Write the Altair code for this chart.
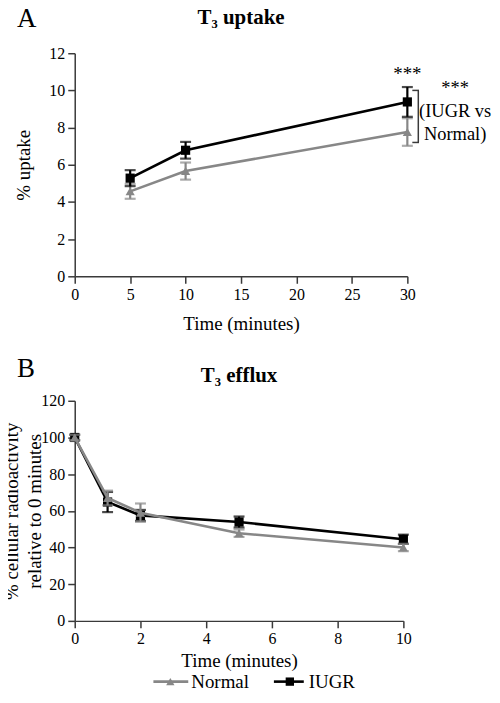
import altair as alt
import pandas as pd

FONT = "Liberation Serif"
AXIS_COLOR = "#3a3a3a"

# ---- series definitions ----
series_names = ["Normal", "IUGR"]
series_colors = ["#878787", "#000000"]
series_shapes = ["triangle-up", "square"]

# ---- panel A: T3 uptake ----
uptake_time = [5, 10, 30]
uptake_normal = [4.57, 5.66, 7.76]
uptake_normal_sem = [0.40, 0.46, 0.74]
uptake_iugr = [5.28, 6.78, 9.38]
uptake_iugr_sem = [0.43, 0.45, 0.80]
uptake_x_ticks = [0, 5, 10, 15, 20, 25, 30]
uptake_y_ticks = [0, 2, 4, 6, 8, 10, 12]
uptake_bracket = [7.2, 10.0]
uptake_note = ["***", "(IUGR vs", "Normal)"]

# ---- panel B: T3 efflux ----
efflux_time = [0, 1, 2, 5, 10]
efflux_normal = [100, 67.0, 59.0, 47.8, 40.0]
efflux_normal_sem = [1.5, 4.0, 5.0, 2.0, 2.0]
efflux_iugr = [100, 64.8, 57.5, 53.9, 44.5]
efflux_iugr_sem = [1.5, 5.5, 3.0, 3.0, 2.5]
efflux_x_ticks = [0, 2, 4, 6, 8, 10]
efflux_y_ticks = [0, 20, 40, 60, 80, 100, 120]


def table(times, normal, normal_sem, iugr, iugr_sem):
    rows = []
    for name, vals, sems in ((series_names[0], normal, normal_sem),
                             (series_names[1], iugr, iugr_sem)):
        for t, v, e in zip(times, vals, sems):
            rows.append({"series": name, "time": t, "value": v,
                         "lo": v - e, "hi": v + e})
    return pd.DataFrame(rows)


uptake_df = table(uptake_time, uptake_normal, uptake_normal_sem,
                  uptake_iugr, uptake_iugr_sem)
efflux_df = table(efflux_time, efflux_normal, efflux_normal_sem,
                  efflux_iugr, efflux_iugr_sem)
legend_df = pd.DataFrame({"series": series_names})
one_row = pd.DataFrame({"k": [0]})

AXIS_STYLE = dict(
    grid=False, domainColor=AXIS_COLOR, domainWidth=1.5, tickColor=AXIS_COLOR,
    tickWidth=1.5, tickSize=7, labelFont=FONT, labelFontSize=16, labelColor="black",
    labelPadding=3, titleFont=FONT, titleFontSize=19, titleFontWeight="normal",
    titleColor="black", labelFlush=False, format="d",
)


def x_enc(domain, ticks, title_pad):
    return alt.X("time:Q", scale=alt.Scale(domain=domain, nice=False, zero=False),
                 axis=alt.Axis(values=ticks, title="Time (minutes)",
                               titlePadding=title_pad, **AXIS_STYLE))


def y_maker(domain, ticks, title, title_x, line_height=None):
    def make(field):
        ax = dict(values=ticks, title=title, titleX=title_x, titleBaseline="middle",
                  titleAngle=-90, **AXIS_STYLE)
        if line_height:
            ax["titleLineHeight"] = line_height
        return alt.Y(f"{field}:Q", scale=alt.Scale(domain=domain, nice=False),
                     axis=alt.Axis(**ax))
    return make


def series_layers(df, name, xe, ye):
    idx = series_names.index(name)
    color = series_colors[idx]
    base = alt.Chart(df[df["series"] == name])
    bars = base.mark_rule(color=color, strokeWidth=2.2).encode(x=xe, y=ye("lo"), y2="hi:Q")
    cap_lo = base.mark_tick(orient="horizontal", color=color, size=11, thickness=2.2).encode(
        x=xe, y=ye("lo"))
    cap_hi = base.mark_tick(orient="horizontal", color=color, size=11, thickness=2.2).encode(
        x=xe, y=ye("hi"))
    line = base.mark_line(color=color, strokeWidth=2.6).encode(x=xe, y=ye("value"))
    pts = base.mark_point(shape=series_shapes[idx], filled=True, size=85, color=color,
                          opacity=1).encode(x=xe, y=ye("value"))
    return [bars, cap_lo, cap_hi, line, pts]


def label_text(text, x, y, size, weight="normal", align="left"):
    return alt.Chart(one_row).mark_text(
        font=FONT, fontSize=size, fontWeight=weight, align=align,
        baseline="alphabetic", color="black").encode(
        x=alt.value(x), y=alt.value(y), text=alt.value(text))


def legend_entry(name, x0, x1, xm, xt, y):
    idx = series_names.index(name)
    color = series_colors[idx]
    d = alt.Chart(legend_df[legend_df["series"] == name])
    ln = d.mark_rule(color=color, strokeWidth=2.6).encode(
        x=alt.value(x0), x2=alt.value(x1), y=alt.value(y))
    mk = d.mark_point(shape=series_shapes[idx], filled=True, size=70, color=color,
                      opacity=1).encode(x=alt.value(xm), y=alt.value(y))
    tx = d.mark_text(font=FONT, fontSize=19, align="left", baseline="alphabetic",
                     color="black").encode(x=alt.value(xt), y=alt.value(y + 6.5),
                                           text="series:N")
    return [ln, mk, tx]


# ---------------- Panel A ----------------
xa = x_enc([0, 30], uptake_x_ticks, 12)
ya = y_maker([0, 12], uptake_y_ticks, "% uptake", -51)

layers_a = series_layers(uptake_df, "Normal", xa, ya) + series_layers(uptake_df, "IUGR", xa, ya)

star_df = uptake_df[(uptake_df["series"] == "IUGR") & (uptake_df["time"] == 30)]
stars = alt.Chart(star_df).mark_text(font=FONT, fontSize=19, baseline="alphabetic",
                                     align="center", dy=-7, color="black").encode(
    x=xa, y=ya("hi"), text=alt.value("***"))

bracket_df = pd.DataFrame({"lo": [uptake_bracket[0]], "hi": [uptake_bracket[1]]})
br = alt.Chart(bracket_df)
br_v = br.mark_rule(color=AXIS_COLOR, strokeWidth=1.5).encode(
    x=alt.value(345), y=ya("lo"), y2="hi:Q")
br_lo = br.mark_rule(color=AXIS_COLOR, strokeWidth=1.5).encode(
    x=alt.value(339), x2=alt.value(345.7), y=ya("lo"))
br_hi = br.mark_rule(color=AXIS_COLOR, strokeWidth=1.5).encode(
    x=alt.value(339), x2=alt.value(345.7), y=ya("hi"))
note = alt.Chart(one_row).mark_text(font=FONT, fontSize=18.5, align="center",
                                    baseline="alphabetic", lineHeight=23,
                                    color="black").encode(
    x=alt.value(382), y=alt.value(41), text=alt.value(uptake_note))

panel_a = alt.layer(
    *layers_a, stars, br_v, br_lo, br_hi, note,
    label_text("A", -58, -26, 27),
    label_text("T\u2083 uptake", 167, -29, 21, weight="bold", align="center"),
).properties(width=334, height=224)

# ---------------- Panel B ----------------
xb = x_enc([0, 10], efflux_x_ticks, 5)
yb = y_maker([0, 120], efflux_y_ticks,
             ["% cellular radioactivity", "relative to 0 minutes"], -63, 23)

layers_b = (series_layers(efflux_df, "IUGR", xb, yb)
            + series_layers(efflux_df, "Normal", xb, yb))
legend_layers = (legend_entry("Normal", 79, 114, 96, 117, 282)
                 + legend_entry("IUGR", 200, 230, 216, 235, 282))

panel_b = alt.layer(
    *layers_b, *legend_layers,
    label_text("B", -58, -24, 27),
    label_text("T\u2083 efflux", 165, -19, 21, weight="bold", align="center"),
).properties(width=330, height=221)

chart = alt.vconcat(panel_a, panel_b, spacing=125, bounds="flush").properties(
    padding={"left": -6, "top": -4, "right": 0, "bottom": -5}
).configure_view(stroke=None).configure_axis(**{k: v for k, v in AXIS_STYLE.items()
                                               if k not in ("format",)})

chart.save("out.html", embed_options={"renderer": "svg", "actions": False})
